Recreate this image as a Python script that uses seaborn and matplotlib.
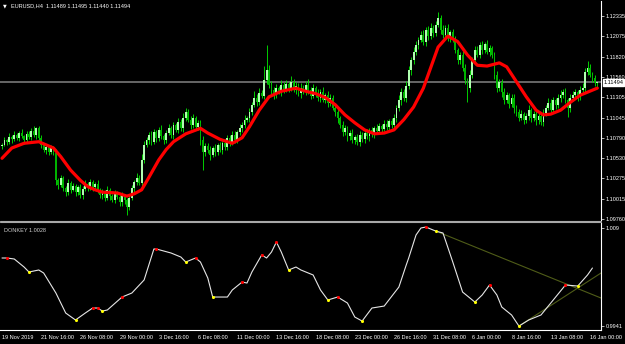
import numpy as np
import pandas as pd
import seaborn as sns
import matplotlib.pyplot as plt
from matplotlib.lines import Line2D
from matplotlib.transforms import blended_transform_factory

# EURUSD H4 closes, one per bar from 19 Nov 2019 00:00
closes = [
    1.1070, 1.1076, 1.1074, 1.1080, 1.1077, 1.1083, 1.1079, 1.1085, 1.1081, 1.1076, 1.1084, 1.1080, 1.1088, 1.1083, 1.1091, 1.1079,
    1.1070, 1.1064, 1.1067, 1.1061, 1.1066, 1.1060, 1.1025, 1.1019, 1.1028, 1.1015, 1.1010, 1.1022, 1.1013, 1.1018, 1.1010, 1.1017,
    1.1006, 1.1014, 1.1020, 1.1015, 1.1023, 1.1017, 1.1020, 1.1013, 1.1006, 1.1010, 1.1003, 1.1013, 1.1005, 1.1000, 1.1009, 1.1004,
    1.0997, 1.1006, 1.1000, 1.0991, 1.1003, 1.1015, 1.1023, 1.1028, 1.1022, 1.1051, 1.1070, 1.1076, 1.1083, 1.1074, 1.1086, 1.1079,
    1.1089, 1.1081, 1.1076, 1.1085, 1.1091, 1.1083, 1.1095, 1.1089, 1.1099, 1.1091, 1.1104, 1.1112, 1.1102, 1.1095, 1.1104, 1.1093,
    1.1098, 1.1076, 1.1061, 1.1069, 1.1064, 1.1057, 1.1066, 1.1061, 1.1070, 1.1064, 1.1072, 1.1067, 1.1079, 1.1074, 1.1083, 1.1076,
    1.1086, 1.1091, 1.1095, 1.1102, 1.1104, 1.1112, 1.1121, 1.1130, 1.1124, 1.1136, 1.1132, 1.1152, 1.1165, 1.1146, 1.1140, 1.1133,
    1.1142, 1.1137, 1.1146, 1.1140, 1.1147, 1.1142, 1.1150, 1.1140, 1.1145, 1.1136, 1.1142, 1.1137, 1.1146, 1.1140, 1.1132, 1.1142,
    1.1136, 1.1130, 1.1137, 1.1127, 1.1133, 1.1123, 1.1130, 1.1117, 1.1112, 1.1104, 1.1095, 1.1086, 1.1091, 1.1081, 1.1085, 1.1076,
    1.1080, 1.1074, 1.1083, 1.1077, 1.1085, 1.1081, 1.1089, 1.1084, 1.1091, 1.1088, 1.1094, 1.1090, 1.1097, 1.1093, 1.1100, 1.1095,
    1.1104, 1.1117, 1.1127, 1.1137, 1.1130, 1.1145, 1.1165, 1.1178, 1.1188, 1.1197, 1.1203, 1.1210, 1.1201, 1.1216, 1.1208, 1.1218,
    1.1212, 1.1222, 1.1231, 1.1216, 1.1210, 1.1218, 1.1206, 1.1213, 1.1203, 1.1190, 1.1178, 1.1184, 1.1168, 1.1152, 1.1142, 1.1159,
    1.1178, 1.1190, 1.1184, 1.1197, 1.1190, 1.1198, 1.1188, 1.1193, 1.1184, 1.1159, 1.1142, 1.1150, 1.1137, 1.1127, 1.1133, 1.1122,
    1.1130, 1.1117, 1.1112, 1.1104, 1.1109, 1.1102, 1.1107, 1.1114, 1.1104, 1.1109, 1.1102, 1.1107, 1.1099, 1.1110, 1.1117, 1.1123,
    1.1114, 1.1127, 1.1121, 1.1130, 1.1133, 1.1137, 1.1127, 1.1117, 1.1130, 1.1133, 1.1137, 1.1131, 1.1140, 1.1142, 1.1163, 1.1168,
    1.1159, 1.1155, 1.11489, 1.11494,
]
first_open = 1.1068

# wick lengths in pips above / below the candle body
upper_wick = [
    3, 4, 2, 5, 3, 4, 2, 3, 5, 2, 4, 3, 3, 6, 2, 3,
    4, 2, 3, 2, 4, 3, 5, 3, 4, 2, 3, 5, 2, 4, 3, 2,
    3, 4, 5, 3, 4, 2, 3, 5, 2, 4, 3, 5, 2, 3, 4, 2,
    3, 4, 2, 3, 5, 4, 3, 6, 4, 8, 5, 4, 3, 5, 4, 3,
    4, 6, 3, 4, 5, 3, 4, 3, 5, 4, 6, 5, 3, 4, 5, 3,
    4, 3, 5, 4, 3, 4, 2, 5, 3, 4, 3, 5, 4, 3, 5, 4,
    3, 5, 4, 6, 3, 5, 4, 8, 5, 6, 4, 18, 32, 6, 5, 4,
    5, 3, 6, 4, 5, 3, 7, 4, 5, 3, 6, 4, 5, 7, 4, 5,
    3, 5, 4, 6, 3, 5, 4, 3, 5, 4, 3, 5, 4, 3, 4, 5,
    3, 4, 5, 3, 4, 5, 3, 4, 3, 5, 4, 3, 4, 5, 3, 4,
    5, 4, 6, 5, 4, 6, 5, 4, 6, 5, 4, 5, 6, 4, 5, 6,
    4, 5, 7, 4, 6, 4, 5, 3, 4, 5, 3, 4, 5, 4, 3, 6,
    4, 5, 6, 4, 5, 3, 5, 4, 3, 4, 5, 3, 4, 5, 4, 3,
    4, 5, 3, 4, 5, 3, 4, 6, 3, 4, 5, 3, 4, 5, 4, 6,
    5, 4, 3, 5, 6, 4, 5, 3, 4, 5, 4, 3, 5, 6, 4, 8,
    4, 3, 4, 0,
]
lower_wick = [
    3, 2, 4, 3, 5, 2, 3, 4, 2, 5, 3, 2, 4, 3, 5, 3,
    4, 3, 5, 4, 2, 3, 6, 5, 3, 4, 5, 3, 4, 2, 5, 3,
    4, 5, 3, 4, 2, 5, 3, 4, 3, 5, 4, 3, 5, 2, 4, 3,
    5, 4, 5, 10, 4, 3, 5, 4, 3, 5, 4, 3, 5, 4, 3, 5,
    4, 3, 5, 4, 3, 4, 5, 3, 4, 3, 5, 4, 3, 5, 4, 3,
    4, 6, 23, 5, 4, 6, 3, 5, 4, 3, 5, 4, 3, 5, 4, 3,
    4, 3, 5, 4, 3, 5, 4, 3, 5, 4, 3, 4, 5, 4, 6, 5,
    4, 3, 5, 4, 3, 5, 4, 3, 5, 4, 6, 3, 4, 5, 4, 3,
    5, 4, 6, 3, 4, 5, 4, 3, 5, 6, 4, 5, 4, 6, 5, 4,
    5, 4, 6, 3, 5, 4, 6, 4, 5, 3, 4, 5, 3, 4, 5, 4,
    3, 5, 4, 6, 4, 5, 4, 6, 5, 4, 5, 3, 4, 6, 5, 4,
    5, 4, 3, 5, 4, 6, 4, 5, 3, 4, 5, 6, 4, 5, 18, 5,
    4, 5, 3, 4, 5, 4, 3, 5, 4, 6, 5, 4, 6, 5, 4, 5,
    4, 6, 5, 4, 3, 5, 4, 6, 5, 4, 7, 5, 4, 5, 4, 3,
    5, 4, 6, 4, 5, 3, 4, 12, 5, 4, 3, 5, 4, 3, 5, 4,
    3, 5, 4, 5,
]

# red moving average
ma_bar = [0, 4, 9, 15, 18, 21, 24, 28, 32, 35, 38, 41, 47, 51, 54, 57, 60, 64, 67, 70,
          75, 81, 84, 89, 94, 98, 101, 105, 109, 114, 120, 124, 128, 132, 136, 140, 144, 148, 152, 156,
          160, 164, 168, 172, 175, 178, 182, 186, 190, 194, 198, 203, 206, 210, 214, 218, 221, 224, 228, 232,
          236, 243]
ma_val = [1.1053, 1.1066, 1.1072, 1.1074, 1.1070, 1.1066, 1.1055, 1.1038, 1.1025, 1.1017, 1.1013, 1.1010, 1.1009, 1.1005, 1.1008, 1.1013, 1.1029, 1.1051, 1.1064, 1.1074,
          1.1084, 1.1091, 1.1085, 1.1077, 1.1072, 1.1079, 1.1093, 1.1114, 1.1131, 1.1138, 1.1142, 1.1138, 1.1135, 1.1130, 1.1121, 1.1108, 1.1098, 1.1089, 1.1084, 1.1085,
          1.1089, 1.1102, 1.1118, 1.1142, 1.1168, 1.1194, 1.1208, 1.1201, 1.1184, 1.1171, 1.1170, 1.1174, 1.1169, 1.1150, 1.1131, 1.1114, 1.1108, 1.1109, 1.1114, 1.1124,
          1.1133, 1.1142]

# DONKEY oscillator
osc_bar = [0, 2, 5, 9, 11, 15, 17, 22, 26, 30, 34, 37, 39, 41, 43, 49, 53, 58, 62, 63,
           69, 73, 75, 79, 81, 84, 86, 92, 94, 98, 100, 102, 106, 108, 110, 112, 114, 117, 120, 122,
           127, 130, 133, 137, 141, 144, 147, 151, 156, 162, 165, 166, 169, 171, 173, 177, 180, 184, 188, 193,
           196, 199, 202, 204, 208, 211, 215, 220, 224, 230, 235, 239, 241]
osc_val = [1.00444, 1.00444, 1.00429, 1.00307, 1.00231, 1.00262, 1.00216, 0.99912, 0.99608, 0.99502, 0.99608, 0.99684, 0.99684, 0.99638, 0.99654, 0.99851, 0.99912, 1.00110, 1.00581, 1.00581,
           1.00520, 1.00459, 1.00383, 1.00444, 1.00383, 1.00140, 0.99851, 0.99851, 0.99958, 1.00079, 1.00064, 1.00231, 1.00490, 1.00444, 1.00535, 1.00687, 1.00535, 1.00262, 1.00307, 1.00262,
           1.00186, 0.99958, 0.99806, 0.99851, 0.99760, 0.99547, 0.99486, 0.99684, 0.99714, 1.00003, 1.00338, 1.00444, 1.00794, 1.00900, 1.00915, 1.00854, 1.00824, 1.00383, 0.99927, 0.99775,
           0.99882, 1.00034, 0.99882, 0.99699, 0.99578, 0.99410, 0.99502, 0.99578, 0.99760, 1.00034, 1.00018, 1.00186, 1.00292]

peak_bar = [2, 37, 39, 49, 63, 79, 98, 106, 112, 137, 173, 199, 230]
peak_val = [1.00444, 0.99684, 0.99684, 0.99851, 1.00581, 1.00444, 1.00079, 1.00490, 1.00687, 0.99851, 1.00915, 1.00034, 1.00034]
trough_bar = [11, 30, 41, 75, 86, 117, 133, 147, 177, 193, 211, 235]
trough_val = [1.00231, 0.99502, 0.99638, 1.00383, 0.99851, 1.00262, 0.99806, 0.99486, 1.00854, 0.99775, 0.99410, 1.00018]

trend1_bar = [177, 244.5]
trend1_val = [1.00854, 0.99836]
trend2_bar = [211, 244.5]
trend2_val = [0.99410, 1.00216]

price_ticks = [1.12335, 1.12075, 1.11820, 1.11560, 1.11305, 1.11045, 1.10790, 1.10530, 1.10275, 1.10015, 1.09760]
last_price = 1.11494
osc_ticks = [1.009, 0.9941]
time_ticks = list(range(0, 241, 16))
time_labels = ['19 Nov 2019', '21 Nov 16:00', '26 Nov 08:00', '29 Nov 00:00', '3 Dec 16:00', '6 Dec 08:00',
               '11 Dec 00:00', '13 Dec 16:00', '18 Dec 08:00', '23 Dec 00:00', '26 Dec 16:00', '31 Dec 08:00',
               '6 Jan 00:00', '8 Jan 16:00', '13 Jan 08:00', '16 Jan 00:00']

sns.set_theme(style='dark', rc={'axes.facecolor': 'black', 'figure.facecolor': 'black',
                                'axes.edgecolor': 'white', 'xtick.color': 'white', 'ytick.color': 'white'})
plt.rcParams['font.family'] = ['Liberation Sans', 'DejaVu Sans']

# candle table
df = pd.DataFrame({'bar': np.arange(len(closes)), 'close': closes})
df['open'] = [first_open] + closes[:-1]
df['high'] = df[['open', 'close']].max(axis=1) + np.array(upper_wick) / 1e4
df['low'] = df[['open', 'close']].min(axis=1) - np.array(lower_wick) / 1e4
up = df['close'] >= df['open']

W, H = 625, 344
fig = plt.figure(figsize=(W / 100, H / 100), dpi=100)


def box(x0, y0, x1, y1):
    return [x0 / W, 1 - y1 / H, (x1 - x0) / W, (y1 - y0) / H]


ax1 = fig.add_axes(box(0, 1, 601, 220))
ax2 = fig.add_axes(box(0, 223, 601, 330))
for ax in (ax1, ax2):
    ax.set_facecolor('black')
    ax.set_xlim(-0.82, 244.5)
    for s in ax.spines.values():
        s.set_visible(False)
    ax.spines['right'].set_visible(True)
    ax.spines['right'].set_color('white')
    ax.spines['right'].set_linewidth(0.8)
    ax.grid(False)
ax2.spines['bottom'].set_visible(True)
ax2.spines['bottom'].set_color('white')
ax2.spines['bottom'].set_linewidth(0.8)

# main window
ax1.set_ylim(1.09747, 1.12525)
ax1.vlines(df['bar'], df['low'], df['high'], color='#00dc00', lw=0.65, zorder=2)
ax1.bar(df['bar'][up], (df['close'] - df['open'])[up], bottom=df['open'][up],
        width=0.75, color='#b0ffb0', linewidth=0, zorder=3)
ax1.bar(df['bar'][~up], (df['close'] - df['open'])[~up], bottom=df['open'][~up],
        width=0.75, color='#00b400', linewidth=0, zorder=3)
ax1.axhline(last_price, color='#787878', lw=1.2, zorder=1)
sns.lineplot(x=ma_bar, y=ma_val, ax=ax1, color='#ff0000', lw=2.3, estimator=None, zorder=4)

ax1.yaxis.tick_right()
ax1.set_yticks(price_ticks)
ax1.set_yticklabels([f'{v:.5f}' for v in price_ticks])
ax1.tick_params(axis='y', colors='white', labelsize=4, length=2, width=0.5, pad=1.5)
ax1.set_xticks([])
tr = blended_transform_factory(ax1.transAxes, ax1.transData)
ax1.text(1.004, last_price, f'{last_price:.5f}', transform=tr, color='black', fontsize=4,
         va='center', ha='left', bbox=dict(facecolor='white', edgecolor='white', pad=0.6), zorder=6)

# DONKEY window
ax2.set_ylim(0.99350, 1.00976)
sns.lineplot(x=trend1_bar, y=trend1_val, ax=ax2, color='#4f5c18', lw=0.8, estimator=None)
sns.lineplot(x=trend2_bar, y=trend2_val, ax=ax2, color='#4f5c18', lw=0.8, estimator=None)
sns.lineplot(x=osc_bar, y=osc_val, ax=ax2, color='#e6e6e6', lw=0.8, estimator=None)
sns.scatterplot(x=peak_bar, y=peak_val, ax=ax2, color='#ff0000', s=5, linewidth=0, zorder=5)
sns.scatterplot(x=trough_bar, y=trough_val, ax=ax2, color='#ffff00', s=5, linewidth=0, zorder=5)

ax2.yaxis.tick_right()
ax2.set_yticks(osc_ticks)
ax2.set_yticklabels(['1.009', '0.9941'])
ax2.tick_params(axis='y', colors='white', labelsize=4, length=2, width=0.5, pad=1.5)
ax2.set_xticks(time_ticks)
ax2.set_xticklabels(time_labels)
ax2.tick_params(axis='x', colors='white', labelsize=4, length=2, width=0.5, pad=1.5)
for lab in ax2.get_xticklabels():
    lab.set_ha('left')

# panel separator
for yy in (220.5, 222.3):
    fig.add_artist(Line2D([0, 601 / W], [1 - yy / H, 1 - yy / H], color='#a8a8a8', lw=0.8))

fig.text(3 / W, 1 - 6 / H, '▼', color='white', fontsize=3.5, va='center', family=['DejaVu Sans'])
fig.text(11 / W, 1 - 6 / H, 'EURUSD,H4  1.11489 1.11495 1.11440 1.11494', color='white', fontsize=4, va='center')
fig.text(4 / W, 1 - 230 / H, 'DONKEY 1.0028', color='#d0d0d0', fontsize=4, va='center')

fig.savefig('out.png', dpi=100, facecolor='black')
